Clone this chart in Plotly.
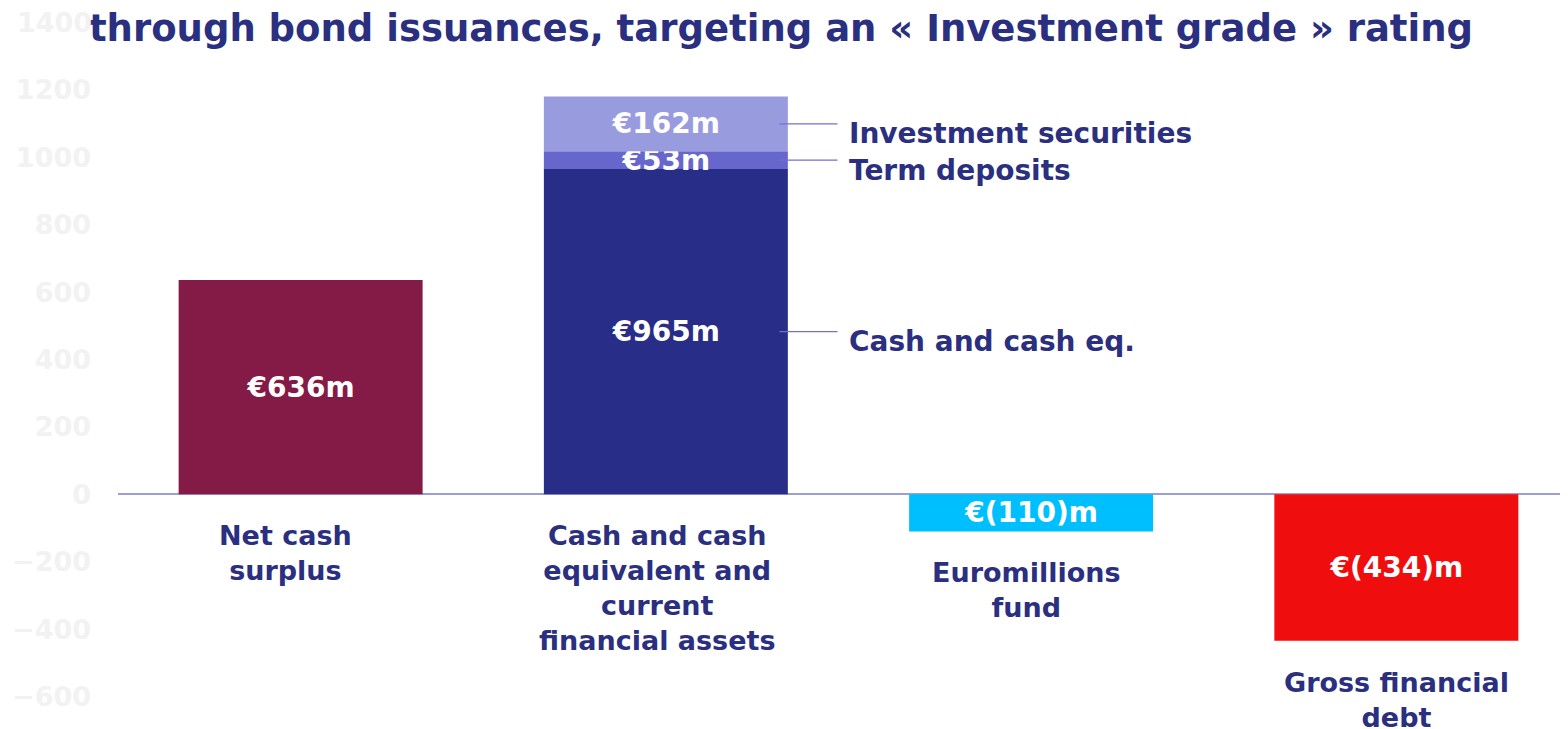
import plotly.graph_objects as go

categories = ["Net cash<br>surplus",
              "Cash and cash<br>equivalent and<br>current<br>financial assets",
              "Euromillions<br>fund",
              "Gross financial<br>debt"]
main_values = [636, 965, -110, -434]
term_deposits = [None, 53, None, None]
investment_securities = [None, 162, None, None]
segment_names = ["Cash and cash eq.", "Term deposits", "Investment securities"]
tick_values = [-600, -400, -200, 0, 200, 400, 600, 800, 1000, 1200]
top_tick = 1400

NAVY = "#2B2F80"
bar_colors = ["#841A46", "#282D87", "#00BFFF", "#F00D0D"]
FONT = "DejaVu Sans"
LBL = 28
TICKFONT = dict(family=FONT, size=27, color="#F2F2F2", weight="bold")

def lab(v):
    return f"€{v}m" if v >= 0 else f"€({abs(v)})m"

xs = list(range(len(categories)))
fig = go.Figure()
for vals, col in [(main_values, bar_colors), (term_deposits, "#6666CC"),
                  (investment_securities, "#999BDF")]:
    fig.add_trace(go.Bar(x=xs, y=vals, marker_color=col, width=0.668,
                         marker_line_width=0,
                         text=[lab(v) if v else "" for v in vals], textposition="inside",
                         insidetextanchor="middle", textangle=0,
                         textfont=dict(family=FONT, size=LBL, color="white", weight="bold"),
                         showlegend=False))

# top tick label (drawn as annotation so it is not dropped at the figure edge)
fig.add_annotation(x=0, xref="paper", y=top_tick, yref="y", text=str(top_tick),
                   showarrow=False, xanchor="right", yanchor="middle", xshift=-24,
                   font=TICKFONT)

# category labels beneath bars
xshifts = [-15, -9, -5, 0]
for i, (c, v) in enumerate(zip(categories, main_values)):
    fig.add_annotation(x=i, y=min(0, v), xref="x", yref="y", text=c, showarrow=False,
                       yanchor="top", xanchor="center", yshift=-24, xshift=xshifts[i],
                       font=dict(family=FONT, size=27, color=NAVY, weight="bold"),
                       align="center")

# segment labels with leader lines for the stacked bar
seg_vals = [main_values[1], term_deposits[1], investment_securities[1]]
base = 0
for name, v in zip(segment_names, seg_vals):
    mid = base + v / 2
    base += v
    fig.add_shape(type="line", xref="x", yref="y", x0=1.311, x1=1.47, y0=mid, y1=mid,
                  line=dict(color="#6F72D0", width=1.2))
    fig.add_annotation(x=1.497, y=mid, xref="x", yref="y", text=name, showarrow=False,
                       xanchor="left", yanchor="middle", yshift=-10,
                       font=dict(family=FONT, size=28, color=NAVY, weight="bold"))

fig.update_layout(
    barmode="relative",
    width=1560, height=721,
    margin=dict(l=110, r=0, t=14, b=32, autoexpand=False),
    plot_bgcolor="white", paper_bgcolor="white",
    uniformtext=dict(minsize=LBL, mode="show"),
    title=dict(text="through bond issuances, targeting an « Investment grade » rating",
               x=0.4955, xanchor="center", y=1 - 20 / 721, yanchor="middle", yref="container",
               font=dict(family=FONT, size=37, color=NAVY, weight="bold")),
    xaxis=dict(range=[-0.5, 3.47], showticklabels=False, showgrid=False, zeroline=False,
               showline=False, ticks="", automargin=False),
    yaxis=dict(range=[-601, 1401], tickvals=tick_values, showgrid=False,
               zeroline=True, zerolinecolor="#9C9ED4", zerolinewidth=2, showline=False,
               ticklabelstandoff=26, automargin=False, tickfont=TICKFONT),
)
fig.write_html("out.html")
